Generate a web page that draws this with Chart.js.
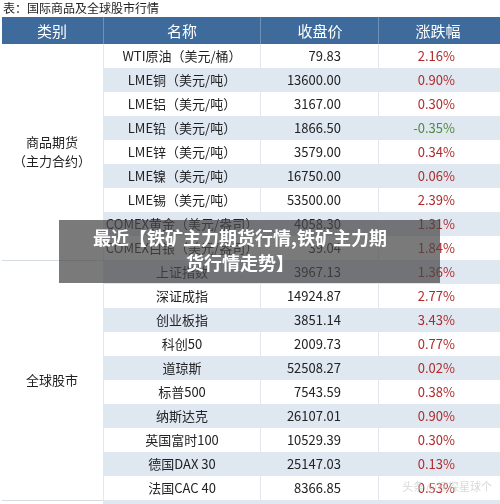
<!DOCTYPE html>
<html><head><meta charset="utf-8">
<script src="https://cdn.jsdelivr.net/npm/chart.js@4/dist/chart.umd.min.js"></script>
<style>html,body{margin:0;padding:0;background:#fff}#w{width:500px;height:504px}</style>
</head><body><div id="w"><canvas id="c"></canvas></div>
<script>
const title = "表：国际商品及全球股市行情";
const headers = ["类别", "名称", "收盘价", "涨跌幅"];
const groups = [["商品期货", "（主力合约）"], ["全球股市"]];
const groupSizes = [9, 10];
const names = ["WTI原油（美元/桶）","LME铜（美元/吨）","LME铝（美元/吨）","LME铅（美元/吨）","LME锌（美元/吨）","LME镍（美元/吨）","LME锡（美元/吨）","COMEX黄金（美元/盎司）","COMEX白银（美元/盎司）",
"上证指数","深证成指","创业板指","科创50","道琼斯","标普500","纳斯达克","英国富时100","德国DAX 30","法国CAC 40"];
const prices = ["79.83","13600.00","3167.00","1866.50","3579.00","16750.00","53500.00","4058.30","39.04",
"3967.13","14924.87","3851.14","2009.73","52508.27","7543.59","26107.01","10529.39","25147.03","8366.85"];
const changes = [2.16,0.90,0.30,-0.35,0.34,0.06,2.39,1.31,1.84,1.36,2.77,3.43,0.77,0.02,0.38,0.90,0.30,0.13,0.53];
const overlay = ["最近【铁矿主力期货行情,铁矿主力期", "货行情走势】"];

const F = '"Noto Sans CJK SC", "Noto Sans", sans-serif';
const tablePlugin = {
  id: 'table',
  beforeDraw(chart) {
    const ctx = chart.ctx, y = chart.scales.y;
    const h = y.getPixelForValue(1) - y.getPixelForValue(0);
    const cols = [0, 103, 260, 378, 500];
    ctx.save();
    ctx.fillStyle = '#fff'; ctx.fillRect(0,0,500,504);
    ctx.fillStyle = '#222'; ctx.font = '12px ' + F; ctx.textBaseline = 'middle'; ctx.textAlign='left';
    ctx.fillText(title, 3, 8);
    // header
    ctx.fillStyle = '#3f6b9c'; ctx.fillRect(2, 17, 498, 27);
    ctx.fillStyle = '#fff'; ctx.font = '15px ' + F; ctx.textAlign = 'center';
    [52,182,320,438].forEach((x,i)=>ctx.fillText(headers[i], x, 31));
    ctx.strokeStyle='#6f92b8'; ctx.lineWidth=1;
    for (let i=1;i<4;i++){ctx.beginPath();ctx.moveTo(cols[i]+.5,17);ctx.lineTo(cols[i]+.5,44);ctx.stroke();}
    names.forEach((n, i) => {
      const cy = y.getPixelForValue(i);
      if (i % 2 === 1) { ctx.fillStyle = '#dfe7f1'; ctx.fillRect(103, cy - h/2, 397, h); }
    });
    ctx.fillStyle = '#dfe7f1'; ctx.fillRect(103, y.getPixelForValue(18)+h/2, 397, 10);
    ctx.strokeStyle='#e4e8ee';
    for (let i=2;i<4;i++){ctx.beginPath();ctx.moveTo(cols[i]+.5,44);ctx.lineTo(cols[i]+.5,504);ctx.stroke();}
    ctx.beginPath();ctx.moveTo(103.5,44);ctx.lineTo(103.5,504);ctx.stroke();
    ctx.font = '13px ' + F;
    names.forEach((n, i) => {
      const cy = y.getPixelForValue(i);
      ctx.fillStyle = '#222'; ctx.textAlign = 'center'; ctx.fillText(n, 182, cy);
      ctx.textAlign = 'right'; ctx.fillText(prices[i], 341, cy);
      const c = changes[i];
      ctx.fillStyle = c < 0 ? '#4f8a3a' : '#b02a2a';
      ctx.fillText(c.toFixed(2) + '%', 455, cy);
    });
    // groups
    let start = 0;
    ctx.fillStyle = '#222'; ctx.textAlign = 'center';
    groups.forEach((g, gi) => {
      const end = start + groupSizes[gi] - 1;
      const mid = (y.getPixelForValue(start) + y.getPixelForValue(end)) / 2;
      g.forEach((t, k) => ctx.fillText(t, 52, mid + (k - (g.length-1)/2) * 19));
      const by = y.getPixelForValue(end) + h/2;
      ctx.strokeStyle='#d5dbe3'; ctx.beginPath(); ctx.moveTo(2,by+.5); ctx.lineTo(103,by+.5); ctx.stroke();
      start = end + 1;
    });
    ctx.fillStyle='rgba(200,200,200,0.7)'; ctx.font='11px '+F; ctx.textAlign='right';
    ctx.fillText('头条 @探探星球个', 492, 487);
    ctx.restore();
  },
  afterDraw(chart) {
    const ctx = chart.ctx;
    ctx.save();
    ctx.fillStyle = 'rgba(70,70,70,0.72)'; ctx.fillRect(59, 220, 381, 63);
    ctx.fillStyle = '#fff'; ctx.font = 'bold 18px ' + F; ctx.textAlign='center'; ctx.textBaseline='middle';
    ctx.fillText(overlay[0], 240, 238); ctx.fillText(overlay[1], 240, 263);
    ctx.restore();
  }
};
new Chart(document.getElementById('c'), {
  type: 'bar',
  data: { labels: names, datasets: [{ data: changes.map(() => 0), backgroundColor: 'rgba(0,0,0,0)' }] },
  options: {
    indexAxis: 'y', responsive: true, maintainAspectRatio: false, animation: false,
    layout: { padding: { top: 44, bottom: 4, left: 0, right: 0 } },
    plugins: { legend: { display: false }, tooltip: { enabled: false } },
    scales: { y: { display: false, offset: true }, x: { display: false, min: 0, max: 1 } }
  },
  plugins: [tablePlugin]
});
</script></body></html>
